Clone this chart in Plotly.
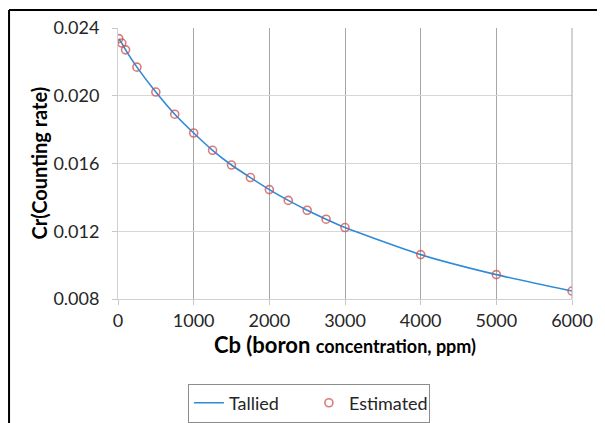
import plotly.graph_objects as go

# Data
cb_ppm = [10, 50, 100, 250, 500, 750, 1000, 1250, 1500, 1750, 2000, 2250, 2500, 2750, 3000, 4000, 5000, 6000]
cr_tallied = [0.02337, 0.02311, 0.02271, 0.02169, 0.02022, 0.01891, 0.01780, 0.01678, 0.01591, 0.01517,
              0.01446, 0.01382, 0.01324, 0.01271, 0.01222, 0.01062, 0.00944, 0.00847]
cr_estimated = [0.02337, 0.02311, 0.02271, 0.02169, 0.02022, 0.01891, 0.01780, 0.01678, 0.01591, 0.01517,
                0.01446, 0.01382, 0.01324, 0.01271, 0.01222, 0.01062, 0.00944, 0.00847]
x_ticks = [0, 1000, 2000, 3000, 4000, 5000, 6000]
y_ticks = [0.008, 0.012, 0.016, 0.020, 0.024]
y_title = "<b>Cr(Counting rate)</b>"

FONT = "Lato"

fig = go.Figure()
fig.add_trace(go.Scatter(
    x=cb_ppm, y=cr_tallied, mode="lines", name="Tallied",
    line=dict(color="#2f8ad8", width=1.6, shape="spline", smoothing=0.6),
))
fig.add_trace(go.Scatter(
    x=cb_ppm, y=cr_estimated, mode="markers", name="Estimated",
    marker=dict(symbol="circle-open", size=8, color="rgba(200,80,77,0.75)", line=dict(width=1.6)),
))

# page body has an 8px default margin, so margins are reduced by 8px on left/top
fig.update_layout(
    width=605, height=423,
    margin=dict(l=110, r=41, t=20, b=132, autoexpand=False),
    paper_bgcolor="white", plot_bgcolor="white",
    font=dict(family=FONT, size=18, color="#262626"),
    showlegend=True,
    legend=dict(
        orientation="h", x=0.154, y=-0.312, xanchor="left", yanchor="top",
        bordercolor="#8c8c8c", borderwidth=1, font=dict(size=18, color="#262626"),
        itemwidth=30, entrywidth=75, entrywidthmode="pixels",
    ),
    xaxis=dict(
        range=[0, 6000], tickvals=x_ticks, ticktext=[str(v) for v in x_ticks],
        showgrid=True, gridcolor="#a6a6a6", gridwidth=1,
        showline=True, linecolor="#d0d0d0", linewidth=1,
        ticks="outside", ticklen=5, tickcolor="#c8c8c8",
        zeroline=False, automargin=True,
        title=dict(
            text="<b>Cb (boron <span style='font-size:18px'>concentration, ppm)</span></b>",
            font=dict(size=22, family=FONT, color="#000000"), standoff=4,
        ),
    ),
    yaxis=dict(
        range=[0.008, 0.024], tickvals=y_ticks, ticktext=[f"{v:.3f}" for v in y_ticks],
        showgrid=True, gridcolor="#d6d6d6", gridwidth=1,
        showline=True, linecolor="#d0d0d0", linewidth=1,
        ticks="outside", ticklen=5, tickcolor="#c8c8c8",
        ticklabelstandoff=9,
        zeroline=False, automargin=True,
    ),
    annotations=[
        dict(text=y_title, xref="paper", yref="paper", x=-0.1762, y=0.5,
             xanchor="center", yanchor="middle", textangle=-90, showarrow=False,
             font=dict(size=20, family=FONT, color="#000000")),
    ],
    shapes=[
        dict(type="line", xref="paper", yref="paper", x0=-0.240, x1=1.1, y0=1.0664, y1=1.0664,
             line=dict(color="black", width=2)),
        dict(type="line", xref="paper", yref="paper", x0=-0.240, x1=-0.240, y0=1.0664, y1=-0.5,
             line=dict(color="black", width=2)),
        dict(type="line", xref="paper", yref="paper", x0=1, x1=1, y0=0, y1=1,
             line=dict(color="#a6a6a6", width=1)),
    ],
)

fig.write_html("out.html")
